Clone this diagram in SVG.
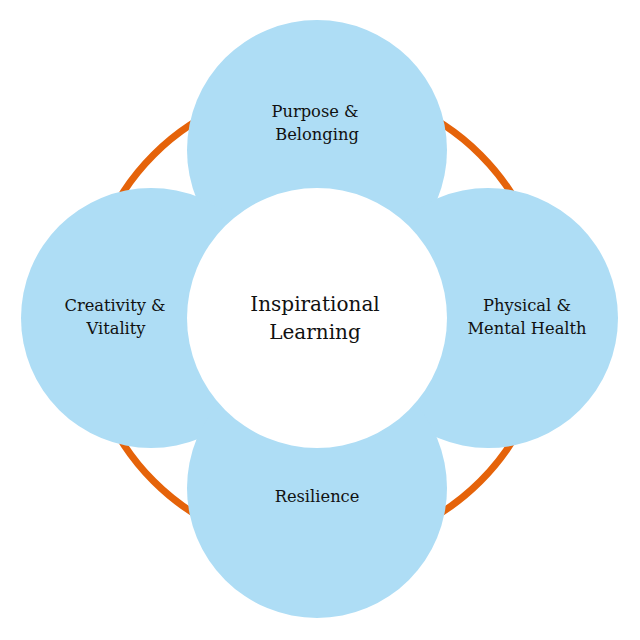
<svg xmlns="http://www.w3.org/2000/svg" width="640" height="640" viewBox="0 0 640 640">
<style>
.petal{fill:#AEDDF5;}
.lbl{font-family:"DejaVu Serif","Liberation Serif",serif;font-size:16.3px;fill:#111;text-anchor:middle;}
.big{font-size:20px;}
</style>
<rect width="640" height="640" fill="#fff"/>
<g id="connectors">
<circle cx="317" cy="318" r="231" fill="none" stroke="#E5630A" stroke-width="7"/>
</g>
<g id="top"><circle class="petal" cx="317" cy="150" r="130"/><text class="lbl" x="315" y="117">Purpose &amp;</text><text class="lbl" x="317" y="140">Belonging</text></g>
<g id="left"><circle class="petal" cx="151" cy="318" r="130"/><text class="lbl" x="115" y="311">Creativity &amp;</text><text class="lbl" x="116" y="334">Vitality</text></g>
<g id="right"><circle class="petal" cx="488" cy="318" r="130"/><text class="lbl" x="527" y="311">Physical &amp;</text><text class="lbl" x="527" y="334">Mental Health</text></g>
<g id="bottom"><circle class="petal" cx="317" cy="488" r="130"/><text class="lbl" x="317" y="502">Resilience</text></g>
<g id="center"><circle cx="317" cy="318" r="130" fill="#fff"/><text class="lbl big" x="315" y="311">Inspirational</text><text class="lbl big" x="315" y="339">Learning</text></g>
</svg>
